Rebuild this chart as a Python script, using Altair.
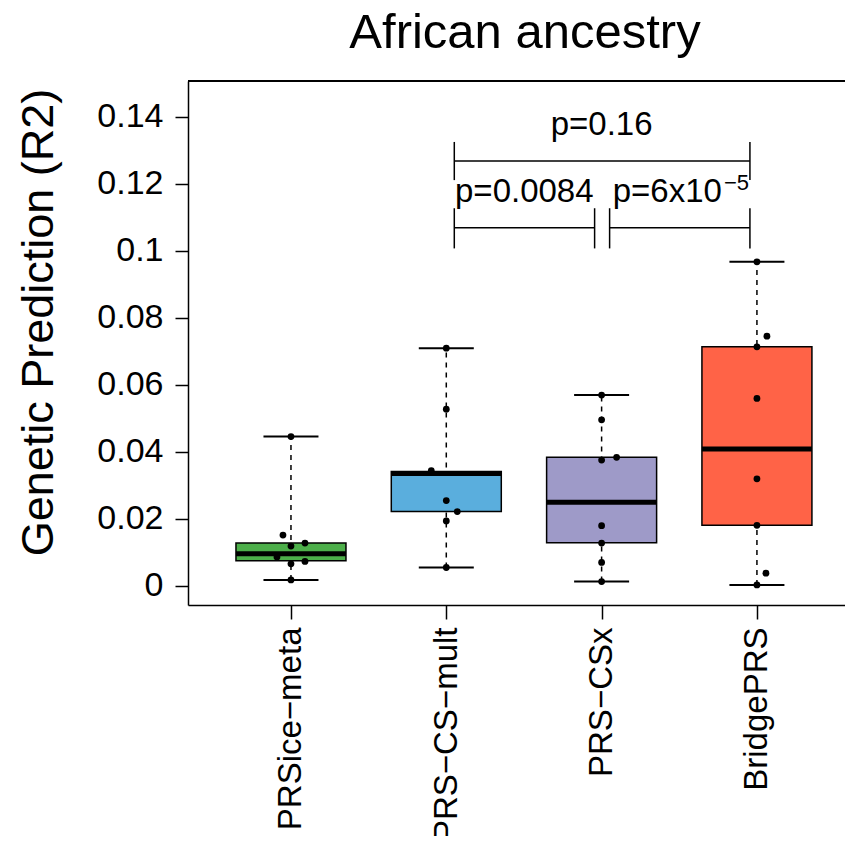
import altair as alt
import pandas as pd

FONT = "Liberation Sans"

# ---- data ----
methods = ["PRSice−meta", "PRS−CS−mult", "PRS−CSx", "BridgePRS"]
colors = ["#4DAF4A", "#5AAEDD", "#9E9AC8", "#FF6347"]
whisker_low = [0.0017, 0.0054, 0.0012, 0.0002]
q1 = [0.0074, 0.0221, 0.0128, 0.0180]
median = [0.0095, 0.0335, 0.0249, 0.0408]
q3 = [0.0127, 0.0341, 0.0383, 0.0713]
whisker_high = [0.0445, 0.0709, 0.0569, 0.0967]

pt_method = (["PRSice−meta"] * 8 + ["PRS−CS−mult"] * 7 +
             ["PRS−CSx"] * 8 + ["BridgePRS"] * 8)
pt_value = [0.0445, 0.0151, 0.0127, 0.0118, 0.0085, 0.0072, 0.0065, 0.0017,
            0.0709, 0.0527, 0.0343, 0.0254, 0.0221, 0.0193, 0.0054,
            0.0569, 0.0495, 0.0383, 0.0375, 0.0179, 0.0127, 0.0069, 0.0012,
            0.0967, 0.0745, 0.0713, 0.0559, 0.0319, 0.0180, 0.0037, 0.0002]
pt_jitter = [0, -8, 14, 0, -14, 14, 0, 0,
             0, 0, -15, 0, 11, 0, 0,
             0, 0, 15, 0, 0, 0, 0, 0,
             0, 10, 0, 0, 0, 0, 9, 0]

y_ticks = [0, 0.02, 0.04, 0.06, 0.08, 0.1, 0.12, 0.14]

br_from = ["PRS−CS−mult", "PRS−CS−mult", "PRS−CSx"]
br_to = ["BridgePRS", "PRS−CSx", "BridgePRS"]
br_y = [0.1268, 0.1069, 0.1069]
br_lo = [0.1211, 0.1007, 0.1007]
br_hi = [0.1325, 0.1127, 0.1127]

p_text = ["p=0.16", "p=0.0084"]
p_x = ["PRS−CSx", "PRS−CS−mult"]
p_dx = [0, 78]
p_y = [0.1345, 0.1146]

sci_text = ["p=6x10"]
sci_exp = ["−5"]
sci_y = [0.1146]
sci_exp_y = [0.1181]

title_text = ["African ancestry"]

# ---- tables ----
box = pd.DataFrame({"method": methods, "lo": whisker_low, "q1": q1,
                    "med": median, "q3": q3, "hi": whisker_high})
pts = pd.DataFrame({"method": pt_method, "value": pt_value, "jit": pt_jitter})
br = pd.DataFrame({"from": br_from, "to": br_to, "y": br_y, "lo": br_lo, "hi": br_hi})
ptxt = pd.DataFrame({"text": p_text, "x": p_x, "dx": p_dx, "y": p_y})
sci = pd.DataFrame({"text": sci_text, "exp": sci_exp, "x": ["BridgePRS"],
                    "y": sci_y, "ey": sci_exp_y})
ttl = pd.DataFrame({"t": title_text})

W, H = 657, 524
xscale = alt.Scale(type="point", domain=methods, padding=0.615, align=0.539)
yscale = alt.Scale(domain=[-0.0058, 0.1507], nice=False, zero=False)

X = alt.X("method:N", scale=xscale, sort=methods,
          axis=alt.Axis(title=None, labelAngle=270, labelAlign="right",
                        labelBaseline="middle", labelFontSize=33, labelFont=FONT,
                        labelColor="black", labelLimit=500, tickSize=14,
                        tickWidth=1.5, tickColor="black", domainColor="black",
                        domainWidth=1.5, labelPadding=8, grid=False))
Y_axis = alt.Axis(values=y_ticks, format="~g", labelFontSize=34, labelFont=FONT,
                  labelColor="black", tickSize=13, tickWidth=1.5, tickColor="black",
                  domainColor="black", domainWidth=1.5, labelPadding=12, grid=False,
                  title="Genetic Prediction (R2)", titleFont=FONT, titleFontSize=45,
                  titleFontWeight="normal", titleColor="black", titleAngle=270,
                  titleAlign="center", titleBaseline="alphabetic",
                  titleX=-136, titleY=241)

base = alt.Chart(box)

whisk = base.mark_rule(color="black", strokeWidth=1.5, strokeDash=[5, 5]).encode(
    x=X, y=alt.Y("lo:Q", scale=yscale, axis=Y_axis), y2="hi:Q")
cap_lo = base.mark_tick(color="black", size=55, thickness=2, opacity=1).encode(
    x=alt.X("method:N", scale=xscale), y=alt.Y("lo:Q", scale=yscale))
cap_hi = base.mark_tick(color="black", size=55, thickness=2, opacity=1).encode(
    x=alt.X("method:N", scale=xscale), y=alt.Y("hi:Q", scale=yscale))
boxes = base.mark_bar(size=110, stroke="black", strokeWidth=1.5, opacity=1).encode(
    x=alt.X("method:N", scale=xscale), y=alt.Y("q1:Q", scale=yscale), y2="q3:Q",
    color=alt.Color("method:N", scale=alt.Scale(domain=methods, range=colors),
                    legend=None))
med = base.mark_tick(color="black", size=110, thickness=5, opacity=1).encode(
    x=alt.X("method:N", scale=xscale), y=alt.Y("med:Q", scale=yscale))

dots = alt.Chart(pts).mark_circle(color="black", size=46, opacity=1).encode(
    x=alt.X("method:N", scale=xscale),
    xOffset=alt.XOffset("jit:Q", scale=alt.Scale(domain=[-20, 20], range=[-20, 20])),
    y=alt.Y("value:Q", scale=yscale))

brc = alt.Chart(br)
br_h = brc.mark_rule(color="black", strokeWidth=1.5, xOffset=8, x2Offset=-7).encode(
    x=alt.X("from:N", scale=xscale), x2="to:N", y=alt.Y("y:Q", scale=yscale))
br_l = brc.mark_rule(color="black", strokeWidth=1.5, xOffset=8).encode(
    x=alt.X("from:N", scale=xscale), y=alt.Y("lo:Q", scale=yscale), y2="hi:Q")
br_r = brc.mark_rule(color="black", strokeWidth=1.5, xOffset=-7).encode(
    x=alt.X("to:N", scale=xscale), y=alt.Y("lo:Q", scale=yscale), y2="hi:Q")

ptc = alt.Chart(ptxt)
txt0 = ptc.transform_filter(alt.datum.dx == 0).mark_text(
    font=FONT, fontSize=33, color="black", align="center", baseline="alphabetic").encode(
    x=alt.X("x:N", scale=xscale), y=alt.Y("y:Q", scale=yscale), text="text:N")
txt1 = ptc.transform_filter(alt.datum.dx != 0).mark_text(
    font=FONT, fontSize=33, color="black", align="center", baseline="alphabetic",
    dx=78).encode(
    x=alt.X("x:N", scale=xscale), y=alt.Y("y:Q", scale=yscale), text="text:N")
sc = alt.Chart(sci)
sci_main = sc.mark_text(font=FONT, fontSize=33, color="black", align="right",
                        baseline="alphabetic", dx=-35).encode(
    x=alt.X("x:N", scale=xscale), y=alt.Y("y:Q", scale=yscale), text="text:N")
sci_sup = sc.mark_text(font=FONT, fontSize=22, color="black", align="left",
                       baseline="alphabetic", dx=-33).encode(
    x=alt.X("x:N", scale=xscale), y=alt.Y("ey:Q", scale=yscale), text="exp:N")

top = alt.Chart(box).mark_rule(color="black", strokeWidth=1.5).encode(
    x=alt.value(0), x2=alt.value(W), y=alt.value(0))

title = alt.Chart(ttl).mark_text(font=FONT, fontSize=49, color="black",
                                 align="center", baseline="alphabetic").encode(
    x=alt.value(337), y=alt.value(-33), text="t:N")

chart = alt.layer(whisk, cap_lo, cap_hi, boxes, med, dots, br_h, br_l, br_r,
                  txt0, txt1, sci_main, sci_sup, top, title).properties(
    width=W, height=H,
    autosize=alt.AutoSizeParams(type="none"),
    padding={"left": 180, "top": 73, "right": 0, "bottom": 231},
    background="white",
).configure_view(stroke=None)

chart.save("out.html", embed_options={"renderer": "svg", "actions": False})
